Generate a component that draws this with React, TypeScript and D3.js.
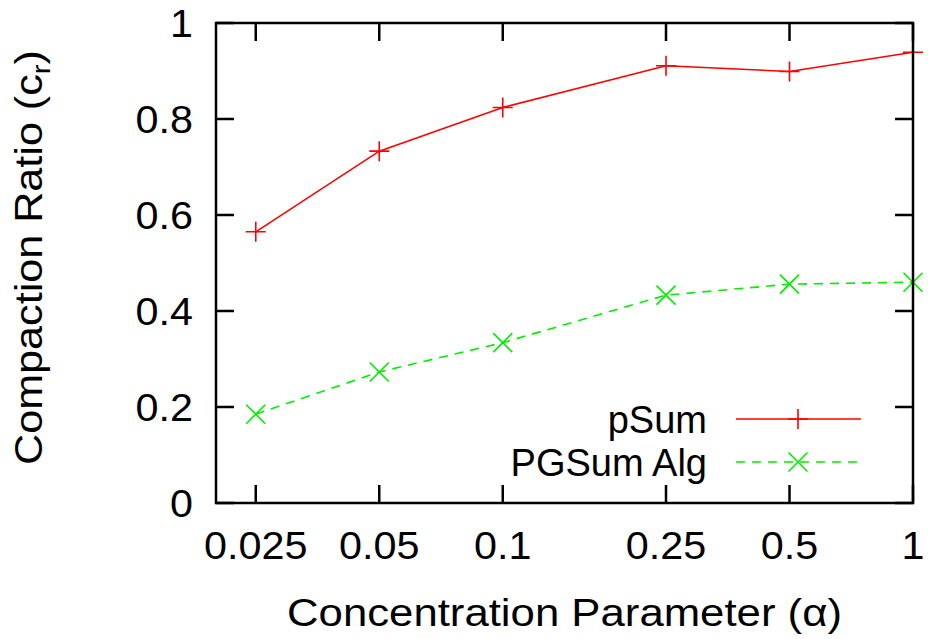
import React from "react";
import * as d3 from "d3";

const alphas = [0.025, 0.05, 0.1, 0.25, 0.5, 1];
const alphaLabels = ["0.025", "0.05", "0.1", "0.25", "0.5", "1"];
const pSum = [0.565, 0.733, 0.824, 0.911, 0.899, 0.939];
const pgSum = [0.185, 0.273, 0.334, 0.433, 0.456, 0.46];
const yTicks = [0, 0.2, 0.4, 0.6, 0.8, 1];
const yTickLabels = ["0", "0.2", "0.4", "0.6", "0.8", "1"];
const seriesNames = ["pSum", "PGSum Alg"];

const W = 928;
const H = 639;
const L = 216, R = 913, T = 23, B = 503;
const FONT = "'Liberation Sans', Arial, Helvetica, sans-serif";
const FS = 38;
const TFS = 39;
const RED = "#ff0000";
const GREEN = "#00ee00";

// width of numeric label in Arial-metric font, slightly widened like the reference
const numWidth = (s: string) =>
  s.split("").reduce((acc, c) => acc + (c === "." ? 0.278 : 0.556), 0) * TFS * 1.06;

function Plus({ x, y, color }: { x: number; y: number; color: string }) {
  const s = 10;
  return (
    <path d={`M${x - s},${y}H${x + s}M${x},${y - s}V${y + s}`} stroke={color} strokeWidth={1.6} fill="none" />
  );
}
function Cross({ x, y, color }: { x: number; y: number; color: string }) {
  const s = 9.5;
  return (
    <path d={`M${x - s},${y - s}L${x + s},${y + s}M${x - s},${y + s}L${x + s},${y - s}`} stroke={color} strokeWidth={1.6} fill="none" />
  );
}

export default function App() {
  const x = d3.scaleLog().domain([0.02, 1]).range([L, R]);
  const y = d3.scaleLinear().domain([0, 1]).range([B, T]);
  const line = d3.line<number>().x((_, i) => x(alphas[i])).y((d) => y(d));
  const tick = 18;

  return (
    <svg width={W} height={H} style={{ position: "absolute", left: 0, top: 0, background: "#fff" }} fontFamily={FONT}>
      <rect x={0} y={0} width={W} height={H} fill="#fff" />
      {/* ticks */}
      {alphas.map((a, i) => (
        <g key={"xt" + i}>
          <line x1={x(a)} x2={x(a)} y1={B} y2={B - tick} stroke="#000" strokeWidth={2.5} />
          <line x1={x(a)} x2={x(a)} y1={T} y2={T + tick} stroke="#000" strokeWidth={2.5} />
          <text x={x(a)} y={559} textAnchor="middle" fontSize={TFS} textLength={numWidth(alphaLabels[i])} lengthAdjust="spacingAndGlyphs">{alphaLabels[i]}</text>
        </g>
      ))}
      {yTicks.map((t, i) => (
        <g key={"yt" + i}>
          <line x1={L} x2={L + tick} y1={y(t)} y2={y(t)} stroke="#000" strokeWidth={2.5} />
          <line x1={R} x2={R - tick} y1={y(t)} y2={y(t)} stroke="#000" strokeWidth={2.5} />
          <text x={193} y={y(t)} dy="0.36em" textAnchor="end" fontSize={TFS} textLength={numWidth(yTickLabels[i])} lengthAdjust="spacingAndGlyphs">{yTickLabels[i]}</text>
        </g>
      ))}
      {/* series */}
      <path d={line(pSum) || ""} fill="none" stroke={RED} strokeWidth={1.6} />
      <path d={line(pgSum) || ""} fill="none" stroke={GREEN} strokeWidth={1.6} strokeDasharray="9,7" />
      {pSum.map((v, i) => <Plus key={"p" + i} x={x(alphas[i])} y={y(v)} color={RED} />)}
      {pgSum.map((v, i) => <Cross key={"g" + i} x={x(alphas[i])} y={y(v)} color={GREEN} />)}
      {/* legend */}
      <text x={707} y={433} textAnchor="end" fontSize={FS}>{seriesNames[0]}</text>
      <line x1={736} x2={861} y1={419} y2={419} stroke={RED} strokeWidth={1.6} />
      <Plus x={798} y={419} color={RED} />
      <text x={707} y={476} textAnchor="end" fontSize={FS}>{seriesNames[1]}</text>
      <line x1={736} x2={861} y1={462} y2={462} stroke={GREEN} strokeWidth={1.6} strokeDasharray="9,7" />
      <Cross x={798} y={462} color={GREEN} />
      {/* frame */}
      <rect x={L} y={T} width={R - L} height={B - T} fill="none" stroke="#000" strokeWidth={2.5} />
      {/* axis titles */}
      <text x={(L + R) / 2} y={626} textAnchor="middle" fontSize={FS} textLength={555} lengthAdjust="spacingAndGlyphs">Concentration Parameter (α)</text>
      <text transform={`translate(42,257.5) rotate(-90)`} textAnchor="middle" fontSize={FS} textLength={415} lengthAdjust="spacingAndGlyphs">
        Compaction Ratio (c<tspan fontSize={26} dy={8}>r</tspan><tspan dy={-8}>)</tspan>
      </text>
    </svg>
  );
}
